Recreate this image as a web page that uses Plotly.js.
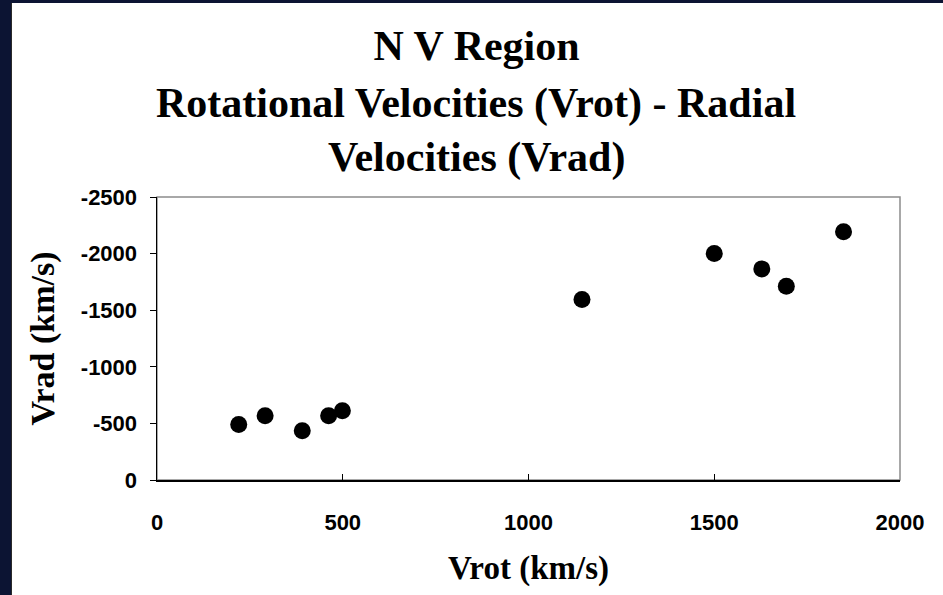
<!DOCTYPE html>
<html>
<head>
<meta charset="utf-8">
<script src="https://cdn.plot.ly/plotly-3.0.1.min.js"></script>
<style>
  html, body { margin: 0; padding: 0; width: 943px; height: 595px; overflow: hidden; background: #0c1433; }
  #chart { position: absolute; left: 11px; top: 3px; width: 932px; height: 592px; background: #ffffff; border-left: 1px solid #2a2a2a; box-sizing: border-box; }
</style>
</head>
<body>
<div id="chart"></div>
<script>
// Data
const vrot = [220, 291, 391, 462, 499, 1144, 1500, 1628, 1694, 1848];
const vrad = [-491, -568, -435, -568, -612, -1594, -2000, -1865, -1712, -2194];

const xTickVals = [0, 500, 1000, 1500, 2000];
const xTickText = ['0', '500', '1000', '1500', '2000'];
const yTickVals = [0, -500, -1000, -1500, -2000, -2500];
const yTickText = ['0', '-500', '-1000', '-1500', '-2000', '-2500'];

const titleLines = ['N V Region', 'Rotational Velocities (Vrot) - Radial', 'Velocities (Vrad)'];
const xTitle = 'Vrot (km/s)';
const yTitle = 'Vrad (km/s)';

const serif = 'Liberation Serif, Times New Roman, serif';
const sans = 'Liberation Sans, Arial, sans-serif';
const titleFont = { family: serif, size: 42, weight: 'bold', color: '#000000' };

const trace = {
  x: vrot,
  y: vrad,
  type: 'scatter',
  mode: 'markers',
  marker: { color: '#000000', size: 17, line: { width: 0 } },
  showlegend: false,
  hoverinfo: 'x+y'
};

const layout = {
  width: 931,
  height: 592,
  paper_bgcolor: '#ffffff',
  plot_bgcolor: '#ffffff',
  margin: { l: 145, r: 43, t: 194, b: 115, pad: 0 },
  title: {
    text: titleLines[0],
    font: titleFont,
    x: 0.499, xref: 'container', xanchor: 'center',
    y: 0.928, yref: 'container', yanchor: 'middle'
  },
  annotations: [
    { text: titleLines[1], xref: 'paper', yref: 'paper', x: 0.43, y: 1.33, xanchor: 'center', yanchor: 'middle', showarrow: false, font: titleFont },
    { text: titleLines[2], xref: 'paper', yref: 'paper', x: 0.43, y: 1.14, xanchor: 'center', yanchor: 'middle', showarrow: false, font: titleFont }
  ],
  xaxis: {
    range: [0, 2000],
    tickvals: xTickVals,
    ticktext: xTickText,
    ticks: 'inside', ticklen: 6, tickwidth: 1, tickcolor: '#000000',
    showline: true, linecolor: '#000000', linewidth: 1.5,
    showgrid: false, zeroline: false,
    tickfont: { family: sans, size: 22, weight: 'bold', color: '#000000' },
    ticklabelstandoff: 22,
    title: { text: xTitle, font: { family: serif, size: 33, weight: 'bold', color: '#000000' }, standoff: 22 },
    fixedrange: true
  },
  yaxis: {
    range: [0, -2500],
    tickvals: yTickVals,
    ticktext: yTickText,
    ticks: 'outside', ticklen: 6, tickwidth: 1, tickcolor: '#000000',
    showline: true, linecolor: '#000000', linewidth: 1.5,
    showgrid: false, zeroline: false,
    tickfont: { family: sans, size: 22, weight: 'bold', color: '#000000' },
    ticklabelstandoff: 8,
    title: { text: yTitle, font: { family: serif, size: 34, weight: 'bold', color: '#000000' }, standoff: 16 },
    fixedrange: true
  },
  shapes: [{
    type: 'rect', xref: 'paper', yref: 'paper', x0: 0, x1: 1, y0: 0, y1: 1,
    line: { color: '#8c8c8c', width: 1.5 }, layer: 'below'
  }]
};

Plotly.newPlot('chart', [trace], layout, { displayModeBar: false, staticPlot: true });
</script>
</body>
</html>
